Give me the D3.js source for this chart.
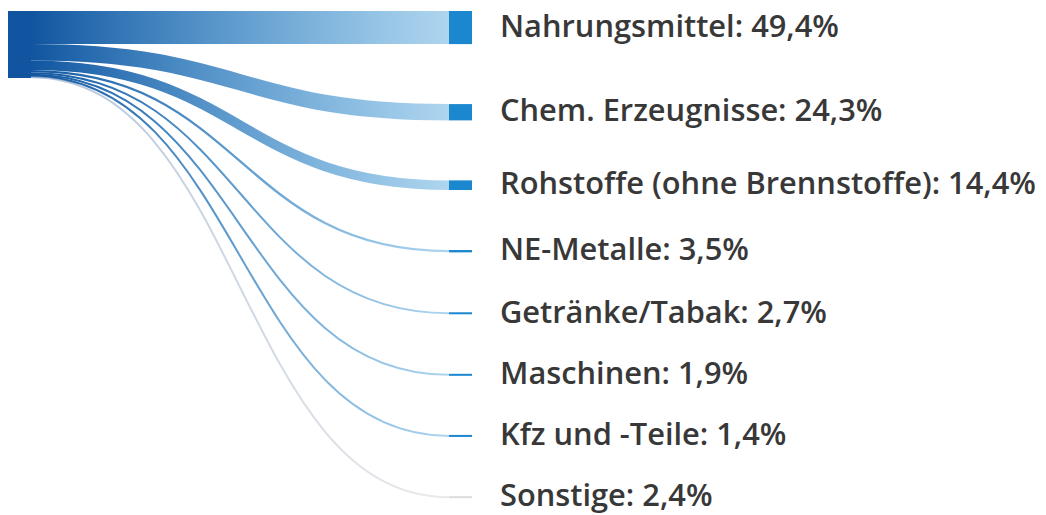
<!DOCTYPE html>
<meta charset="utf-8">
<style>
    body {
        margin: 0;
        background: #fff;
    }
    .label {
        font-family: "Open Sans", sans-serif;
        font-weight: 600;
        font-size: 30.8px;
        fill: #383838;
    }
</style>
<script src="https://d3js.org/d3.v7.min.js"></script>
<div id="chart"></div>
<script>

    // Anteile in Prozent
    var categories = ["Nahrungsmittel", "Chem. Erzeugnisse", "Rohstoffe (ohne Brennstoffe)", "NE-Metalle",
        "Getränke/Tabak", "Maschinen", "Kfz und -Teile", "Sonstige"];
    var shares = [49.4, 24.3, 14.4, 3.5, 2.7, 1.9, 1.4, 2.4];
    var shareLabels = ["49,4%", "24,3%", "14,4%", "3,5%", "2,7%", "1,9%", "1,4%", "2,4%"];

    var width = 1046,
        height = 515;

    var top0 = 11,
        nodePadding = 60,
        nodeWidth = 23,
        srcX = 8,
        tgtX = 449;

    var svg = d3.select("#chart")
        .append("svg")
        .attr("width", width)
        .attr("height", height);

    // px pro Prozentpunkt
    var k = d3.scaleLinear()
        .domain([0, 100])
        .range([0, 67]);

    var total = d3.sum(shares);

    // Knoten rechts
    var nodes = [];
    var y = top0, ys = top0;
    categories.forEach(function(c, i) {
        var h = k(shares[i]);
        nodes.push({
            name: c,
            label: shareLabels[i],
            value: shares[i],
            y0: y, y1: y + h,
            sy0: ys, sy1: ys + h,
            other: c === "Sonstige"
        });
        y += h + nodePadding;
        ys += h;
    });

    var srcColor = "#1155a0",
        tgtColor = "#1a87cf",
        greyColor = "#d4d4d4";

    var defs = svg.append("defs");
    nodes.forEach(function(d, i) {
        var g = defs.append("linearGradient")
            .attr("id", "grad" + i)
            .attr("gradientUnits", "userSpaceOnUse")
            .attr("x1", srcX + nodeWidth)
            .attr("x2", tgtX);
        g.append("stop").attr("offset", "0%")
            .attr("stop-color", d.other ? "#7d9cc4" : srcColor)
            .attr("stop-opacity", d.other ? 0.6 : 1);
        g.append("stop").attr("offset", "100%")
            .attr("stop-color", d.other ? greyColor : tgtColor)
            .attr("stop-opacity", d.other ? 0.5 : 0.35);
    });

    var link = d3.linkHorizontal()
        .source(function(d) { return [srcX + nodeWidth, (d.sy0 + d.sy1) / 2]; })
        .target(function(d) { return [tgtX, (d.y0 + d.y1) / 2]; });

    svg.append("g")
        .attr("fill", "none")
        .selectAll("path")
        .data(nodes)
        .enter()
        .append("path")
        .attr("d", link)
        .attr("stroke", function(d, i) { return "url(#grad" + i + ")"; })
        .attr("stroke-width", function(d) { return Math.max(2, d.y1 - d.y0); });

    // Quellknoten
    svg.append("rect")
        .attr("x", srcX)
        .attr("y", top0)
        .attr("width", nodeWidth)
        .attr("height", k(total))
        .attr("fill", srcColor);

    svg.append("g")
        .selectAll("rect")
        .data(nodes)
        .enter()
        .append("rect")
        .attr("x", tgtX)
        .attr("y", function(d) { return (d.y0 + d.y1) / 2 - Math.max(2, d.y1 - d.y0) / 2; })
        .attr("width", nodeWidth)
        .attr("height", function(d) { return Math.max(2, d.y1 - d.y0); })
        .attr("fill", function(d) { return d.other ? "#dcdcdc" : tgtColor; });

    svg.append("g")
        .selectAll("text")
        .data(nodes)
        .enter()
        .append("text")
        .attr("class", "label")
        .attr("x", 500)
        .attr("y", function(d) { return (d.y0 + d.y1) / 2; })
        .attr("dy", "0.3em")
        .text(function(d) { return d.name + ": " + d.label; });

</script>
